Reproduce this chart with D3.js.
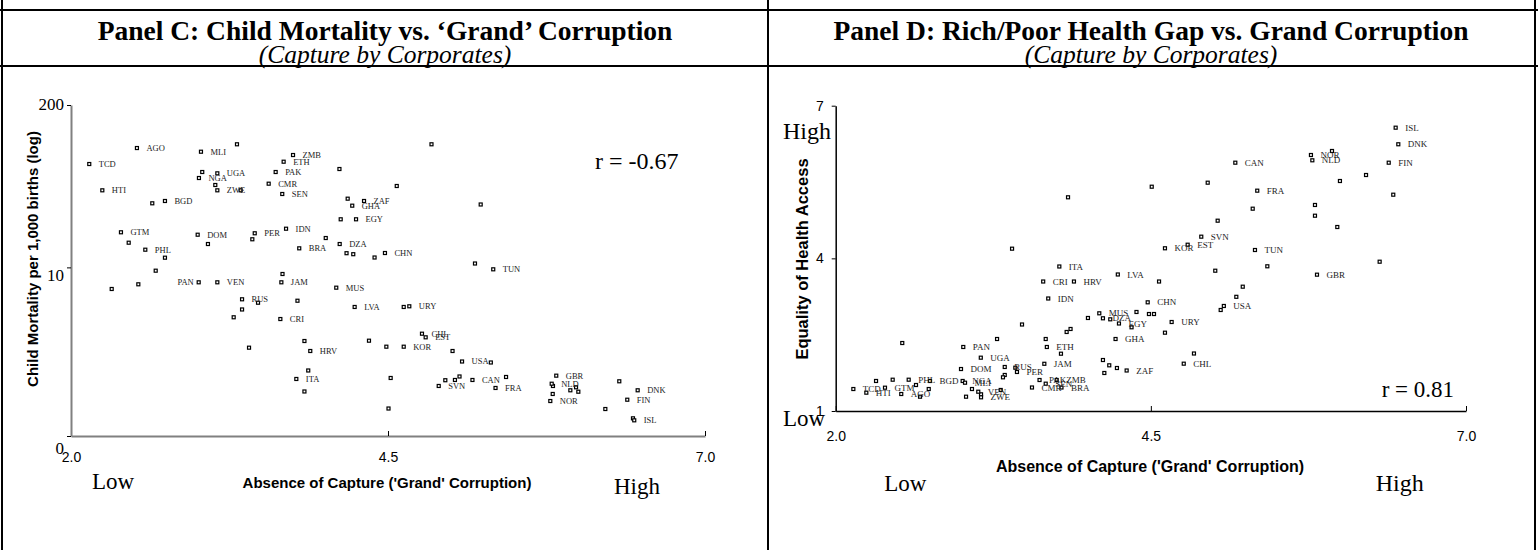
<!DOCTYPE html>
<html>
<head>
<meta charset="utf-8">
<script src="https://cdn.jsdelivr.net/npm/d3@7"></script>
<style>
body { margin: 0; background: #fff; }
svg text { font-family: "Liberation Serif", "Times New Roman", serif; }
</style>
</head>
<body>
<div id="chart-area"></div>
<script>
// Two scatter panels, same x variable (absence of 'grand' corruption, 2..7)

// Panel C: labelled countries, x = capture score, y = child mortality (log units on the axis)
var cCodes = ["TCD","AGO","HTI","BGD","MLI","UGA","NGA","ZWE","ZMB","ETH","PAK","CMR","SEN","ZAF","GHA","EGY",
  "GTM","DOM","PER","IDN","DZA","PHL","BRA","CHN","TUN","PAN","VEN","JAM","MUS","RUS","LVA","URY","CRI","CHL",
  "EST","KOR","HRV","USA","ITA","CAN","SVN","FRA","GBR","NLD","NOR","DNK","FIN","ISL"];
var cCapture = [2.144,2.520,2.247,2.741,3.025,3.154,3.009,3.154,3.751,3.677,3.614,3.559,3.666,4.311,4.218,4.248,
  2.394,2.999,3.449,3.696,4.119,2.586,3.800,4.476,5.330,3.007,3.154,3.659,4.092,3.349,4.237,4.668,3.651,4.768,
  4.797,4.624,3.887,5.084,3.777,5.166,4.900,5.348,5.827,5.791,5.780,6.469,6.387,6.442];
var cMortality = [4.355,4.611,3.934,3.763,4.552,4.206,4.131,3.934,4.499,4.392,4.227,4.040,3.875,3.763,3.688,3.470,
  3.262,3.223,3.246,3.319,3.074,2.983,3.005,2.930,2.669,2.461,2.461,2.461,2.375,2.189,2.066,2.077,1.873,1.638,
  1.580,1.430,1.361,1.193,0.913,0.897,0.801,0.769,0.966,0.837,0.560,0.732,0.581,0.251];
// unlabelled countries in panel C
var cOtherCapture = [3.309,4.843,4.117,4.569,3.035,3.138,3.338,2.641,4.182,5.231,4.127,3.430,4.009,2.455,3.080,
  4.173,4.226,4.394,2.741,5.186,2.668,3.668,2.531,2.321,3.475,3.786,3.349,3.283,4.624,4.350,4.487,3.841,3.404,
  5.009,5.311,3.871,4.521,4.952,5.028,5.064,5.431,3.841,4.504,5.801,5.938,5.983,6.001,5.799,6.324,6.214,6.432];
var cOtherMortality = [4.671,4.671,4.275,4.003,4.227,4.019,3.934,3.726,3.800,3.707,3.470,3.150,3.170,3.095,3.074,
  2.927,2.911,2.858,2.855,2.762,2.647,2.594,2.429,2.354,2.134,2.166,2.026,1.901,2.066,1.526,1.430,1.521,1.414,
  1.361,1.177,1.049,0.929,0.893,0.897,0.953,0.945,0.713,0.440,0.801,0.732,0.780,0.709,0.673,0.876,0.432,0.283];
var cLeftLabels = ["PAN"];
var cYTicks = [0, 2.7, 5.3];
var cYTickLabels = ["0", "10", "200"];

// Panel D: labelled countries, y = equality of health access (1..7)
var dCodes = ["ISL","DNK","NOR","NLD","CAN","FIN","FRA","SVN","EST","KOR","TUN","GBR","ITA","LVA","CRI","HRV",
  "IDN","CHN","USA","URY","MUS","DZA","EGY","GHA","CHL","ZAF","PAN","ETH","UGA","JAM","DOM","RUS","PER","PAK",
  "ZMB","SEN","CMR","BRA","TCD","HTI","GTM","AGO","PHL","BGD","NGA","MLI","VEN","ZWE"];
var dCapture = [6.442,6.463,5.770,5.781,5.170,6.387,5.344,4.900,4.792,4.612,5.326,5.818,3.774,4.238,3.646,3.890,
  3.686,4.475,5.079,4.665,4.091,4.120,4.247,4.220,4.761,4.308,3.012,3.675,3.151,3.655,2.994,3.341,3.438,3.617,
  3.753,3.666,3.557,3.791,2.140,2.243,2.391,2.520,2.579,2.748,3.007,3.026,3.131,3.153];
var dHealth = [6.568,6.242,6.031,5.927,5.880,5.880,5.330,4.426,4.268,4.198,4.164,3.679,3.840,3.683,3.545,3.545,
  3.211,3.136,3.064,2.749,2.920,2.822,2.720,2.415,1.930,1.796,2.258,2.258,2.048,1.928,1.825,1.865,1.767,1.609,
  1.609,1.537,1.462,1.462,1.432,1.360,1.458,1.334,1.615,1.590,1.590,1.556,1.379,1.269];
var dOtherCapture = [3.843,3.399,4.507,4.951,6.207,6.000,5.937,6.423,5.802,5.308,5.802,5.030,5.979,5.424,6.315,
  5.011,4.565,5.229,5.178,5.054,4.386,4.485,4.525,4.612,4.842,4.001,4.178,4.347,3.478,3.863,3.832,3.280,3.666,
  2.528,3.787,4.120,4.170,4.231,4.131,3.425,3.341,3.327,2.320,2.452,2.637,2.738,2.669,3.081,3.153,3.034,3.309];
var dOtherHealth = [5.200,4.190,5.408,5.487,5.638,5.520,6.110,5.251,5.049,4.976,4.838,4.740,4.616,3.844,3.934,
  3.757,3.545,3.443,3.244,2.985,2.946,2.906,2.906,2.539,2.130,2.828,2.802,2.645,2.700,2.612,2.553,2.415,2.415,
  2.336,2.126,2.002,1.898,1.845,1.747,1.851,1.708,1.662,1.590,1.615,1.511,1.432,1.281,1.432,1.328,1.281,1.413];
var dYTicks = [1, 4, 7];

var xTicks = [2, 4.5, 7];

var W = 1538, H = 550;
var svg = d3.select("#chart-area").append("svg")
  .attr("width", W)
  .attr("height", H);

// table frame round the two panels
[10, 66].forEach(function(y){
  svg.append("line").attr("x1", 0).attr("x2", W).attr("y1", y).attr("y2", y)
    .attr("stroke", "#000").attr("stroke-width", 2);
});
[2, 768, 1535].forEach(function(x){
  svg.append("line").attr("x1", x).attr("x2", x).attr("y1", 0).attr("y2", H)
    .attr("stroke", "#000").attr("stroke-width", 2);
});

function title(cx, main, sub){
  svg.append("text").attr("x", cx).attr("y", 40).attr("text-anchor", "middle")
    .style("font-size", "27.5px").style("font-weight", "bold").text(main);
  svg.append("text").attr("x", cx).attr("y", 62.5).attr("text-anchor", "middle")
    .style("font-size", "25.5px").style("font-style", "italic").text(sub);
}
title(385, "Panel C: Child Mortality vs. \u2018Grand\u2019 Corruption", "(Capture by Corporates)");
title(1151, "Panel D: Rich/Poor Health Gap vs. Grand Corruption", "(Capture by Corporates)");

function serif(x, y, size, txt){
  return svg.append("text").attr("x", x).attr("y", y).style("font-size", size + "px").text(txt);
}
function sansBold(x, y, size, txt, rotate){
  var t = svg.append("text")
    .style("font-family", "'Liberation Sans', Arial, sans-serif")
    .style("font-weight", "bold").style("font-size", size + "px")
    .attr("text-anchor", "middle").text(txt);
  if (rotate) t.attr("transform", "translate(" + x + "," + y + ") rotate(-90)");
  else t.attr("x", x).attr("y", y);
  return t;
}

function drawPoints(g, x, y, codes, xs, ys, fs, leftSet){
  var pts = codes.map(function(c, i){ return {code: c, x: xs[i], y: ys[i]}; });
  g.selectAll("rect.pt").data(pts).enter().append("rect")
    .attr("class", "pt")
    .attr("x", function(d){ return x(d.x) - 1.5; })
    .attr("y", function(d){ return y(d.y) - 1.5; })
    .attr("width", 3).attr("height", 3)
    .attr("fill", "#fff").attr("stroke", "#000").attr("stroke-width", 1.2);
  g.selectAll("text.lab").data(pts.filter(function(d){ return d.code; })).enter().append("text")
    .attr("class", "lab")
    .attr("x", function(d){ return leftSet.indexOf(d.code) >= 0 ? x(d.x) - 5 : x(d.x) + 9.5; })
    .attr("y", function(d){ return y(d.y); })
    .attr("dy", "0.35em")
    .attr("text-anchor", function(d){ return leftSet.indexOf(d.code) >= 0 ? "end" : "start"; })
    .attr("fill", "#222")
    .style("font-size", fs + "px")
    .text(function(d){ return d.code; });
}

// ---------- Panel C ----------
var xC = d3.scaleLinear().domain([2, 7]).range([71, 705]);
var yC = d3.scaleLinear().domain([0, 5.3]).range([436, 105]);

var axC = svg.append("g").attr("transform", "translate(0,436)")
  .call(d3.axisBottom(xC).tickValues(xTicks).tickFormat(d3.format(".1f"))
    .tickSizeInner(-5).tickSizeOuter(0).tickPadding(16));
axC.selectAll("text").style("font-family", "'Liberation Sans', Arial, sans-serif").style("font-size", "14px");

var ayC = svg.append("g").attr("transform", "translate(71,0)")
  .call(d3.axisLeft(yC).tickValues(cYTicks).tickFormat(function(d, i){ return cYTickLabels[i]; })
    .tickSizeInner(4).tickSizeOuter(0).tickPadding(3));
ayC.selectAll("text").style("font-family", "'Liberation Serif', 'Times New Roman', serif").style("font-size", "17px")
  .attr("dy", function(d, i){ return ["1.0em", "0.78em", "0.25em"][i]; });

[axC, ayC].forEach(function(a){
  a.select(".domain").attr("stroke", "#808080").attr("stroke-width", 2);
  a.selectAll(".tick line").attr("stroke", "#000");
});

var gC = svg.append("g");
drawPoints(gC, xC, yC, cOtherCapture.map(function(){ return ""; }), cOtherCapture, cOtherMortality, 8.5, cLeftLabels);
var gC2 = svg.append("g");
drawPoints(gC2, xC, yC, cCodes, cCapture, cMortality, 8.5, cLeftLabels);

serif(595, 169, 24, "r = -0.67");
serif(92, 489, 23, "Low");
serif(614, 494, 23, "High");
sansBold(387, 488, 15, "Absence of Capture ('Grand' Corruption)");
sansBold(38, 259, 15, "Child Mortality per 1,000 births (log)", true);

// ---------- Panel D ----------
var xD = d3.scaleLinear().domain([2, 7]).range([835.7, 1466]);
var yD = d3.scaleLinear().domain([1, 7]).range([411, 105.7]);

var axD = svg.append("g").attr("transform", "translate(0,411)")
  .call(d3.axisBottom(xD).tickValues(xTicks).tickFormat(d3.format(".1f"))
    .tickSizeInner(-5).tickSizeOuter(0).tickPadding(20.5));
axD.selectAll("text").style("font-family", "'Liberation Sans', Arial, sans-serif").style("font-size", "14px");

var ayD = svg.append("g").attr("transform", "translate(835.7,0)")
  .call(d3.axisLeft(yD).tickValues(dYTicks).tickFormat(d3.format("d"))
    .tickSizeInner(4).tickSizeOuter(0).tickPadding(8));
ayD.selectAll("text").style("font-family", "'Liberation Sans', Arial, sans-serif").style("font-size", "14px");

[axD, ayD].forEach(function(a){
  a.select(".domain").attr("stroke", "#000").attr("stroke-width", 1.5);
  a.selectAll(".tick line").attr("stroke", "#000");
});

var gD = svg.append("g");
drawPoints(gD, xD, yD, dOtherCapture.map(function(){ return ""; }), dOtherCapture, dOtherHealth, 9, []);
var gD2 = svg.append("g");
drawPoints(gD2, xD, yD, dCodes, dCapture, dHealth, 9, []);

serif(1381.7, 396.7, 23, "r = 0.81");
serif(783, 139, 24, "High");
serif(783, 425.5, 23, "Low");
serif(884.3, 491, 23, "Low");
serif(1375.7, 490.7, 24, "High");
sansBold(1150, 471.5, 16, "Absence of Capture ('Grand' Corruption)");
sansBold(807.5, 259, 16.5, "Equality of Health Access", true);
</script>
</body>
</html>
